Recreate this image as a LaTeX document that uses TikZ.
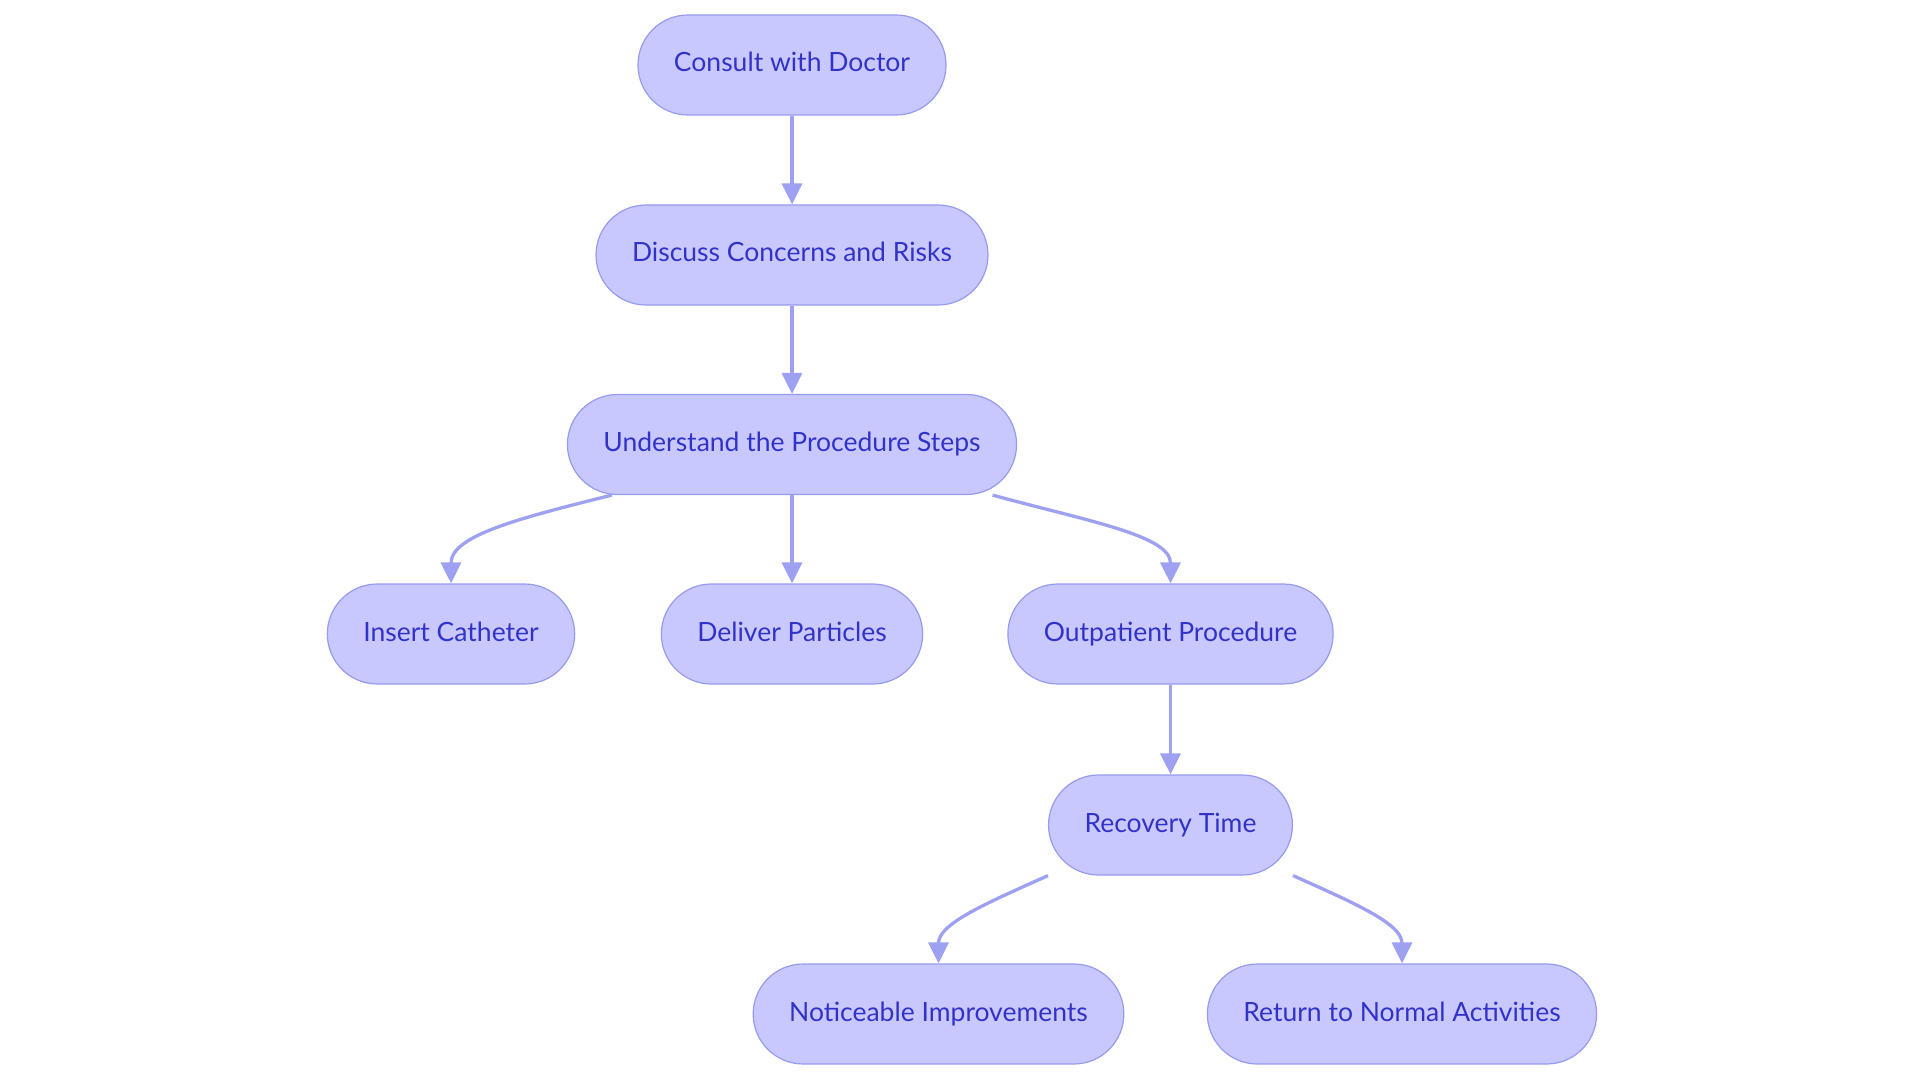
\documentclass[tikz,border=0pt]{standalone}
\usepackage{fontspec}
\setmainfont{Lato}
\usetikzlibrary{arrows.meta}
\definecolor{stepfill}{RGB}{200,200,255}
\definecolor{stepline}{RGB}{150,155,238}
\definecolor{steptext}{RGB}{50,50,200}
\definecolor{linkcol}{RGB}{158,161,242}
\tikzset{
  stepbox/.style={draw=stepline, line width=1.2pt, fill=stepfill, text=steptext,
    rounded corners=50pt, minimum height=100pt, inner xsep=36pt,
    text height=19pt, text depth=5pt,
    font=\fontsize{26.5}{30}\selectfont},
  link/.style={draw=linkcol, line width=3.3pt,
    -{Triangle[length=21pt,width=20pt,fill=linkcol]}}
}
\begin{document}
\begin{tikzpicture}[x=1pt,y=-1pt]
\useasboundingbox (0,0) rectangle (1920,1083);
%steps
\node[stepbox] (cons) at (792,65) {Consult with Doctor};
\node[stepbox] (disc) at (792,255) {Discuss Concerns and Risks};
\node[stepbox] (und) at (792,444.5) {Understand the Procedure Steps};
\node[stepbox] (ins) at (451,634) {Insert Catheter};
\node[stepbox] (del) at (792,634) {Deliver Particles};
\node[stepbox] (out) at (1170.5,634) {Outpatient Procedure};
\node[stepbox] (rec) at (1170.5,825) {Recovery Time};
\node[stepbox] (noti) at (938.5,1014) {Noticeable Improvements};
\node[stepbox] (ret) at (1402,1014) {Return to Normal Activities};
%straight links
\draw[link] (cons.south) -- (disc.north);
\draw[link] (disc.south) -- (und.north);
\draw[link] (und.south) -- (del.north);
\draw[link] (out.south) -- (rec.north);
%curved links
\draw[link] ([xshift=45pt]und.south west) .. controls +(-92,23) and +(0,-48) .. (ins.north);
\draw[link] ([xshift=-24.6pt]und.south east) .. controls +(95,26) and +(0,-48) .. (out.north);
\draw[link] (rec.south west) .. controls +(-60,27) and +(0,-40) .. (noti.north);
\draw[link] (rec.south east) .. controls +(60,27) and +(0,-40) .. (ret.north);
\end{tikzpicture}
\end{document}
